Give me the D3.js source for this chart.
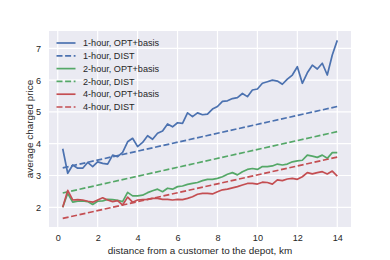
<!DOCTYPE html>
<html>
<head>
<meta charset="utf-8">
<script src="https://cdn.jsdelivr.net/npm/d3@7"></script>
<style>
  body { margin: 0; background: #fff; }
  text { font-family: "Liberation Sans", Arial, sans-serif; fill: #262626; }
</style>
</head>
<body>
<div id="chart"></div>
<script>
// distance from a customer to the depot, km
var distances = d3.range(1, 57).map(function (i) { return i * 0.25; });

var oneHourOpt = [3.84, 3.07, 3.33, 3.23, 3.23, 3.41, 3.28, 3.43, 3.38, 3.36,
  3.64, 3.59, 3.73, 4.06, 4.17, 3.91, 4.04, 4.25, 4.14, 4.33,
  4.40, 4.62, 4.53, 4.66, 4.64, 4.97, 4.85, 4.97, 4.91, 4.93,
  5.09, 5.17, 5.33, 5.35, 5.42, 5.45, 5.58, 5.48, 5.69, 5.72,
  5.90, 5.95, 6.00, 5.97, 5.87, 6.03, 6.16, 6.42, 5.90, 6.23,
  6.47, 6.35, 6.53, 6.16, 6.79, 7.25];

var twoHourOpt = [2.00, 2.44, 2.16, 2.19, 2.20, 2.18, 2.09, 2.19, 2.20, 2.25,
  2.24, 2.22, 2.18, 2.47, 2.36, 2.36, 2.38, 2.46, 2.52, 2.57,
  2.49, 2.60, 2.57, 2.65, 2.67, 2.72, 2.75, 2.78, 2.84, 2.88,
  2.88, 2.91, 2.96, 3.04, 3.09, 3.02, 3.12, 3.19, 3.22, 3.19,
  3.28, 3.28, 3.30, 3.36, 3.33, 3.36, 3.43, 3.46, 3.48, 3.64,
  3.61, 3.57, 3.64, 3.54, 3.72, 3.72];

var fourHourOpt = [2.00, 2.53, 2.23, 2.24, 2.23, 2.19, 2.16, 2.23, 2.30, 2.23,
  2.18, 2.21, 2.07, 2.32, 2.16, 2.23, 2.24, 2.25, 2.28, 2.28,
  2.25, 2.25, 2.23, 2.25, 2.24, 2.28, 2.33, 2.41, 2.44, 2.44,
  2.42, 2.49, 2.55, 2.57, 2.61, 2.65, 2.70, 2.75, 2.75, 2.73,
  2.79, 2.78, 2.73, 2.86, 2.84, 2.89, 2.91, 2.88, 2.96, 3.09,
  3.05, 3.09, 3.12, 3.05, 3.14, 2.98];

// DIST baselines are straight lines: values at both ends
var distEnds = [0.25, 14];
var oneHourDist = [3.24, 5.17];
var twoHourDist = [2.45, 4.38];
var fourHourDist = [1.65, 3.58];

var xTicks = [0, 2, 4, 6, 8, 10, 12, 14];
var yTicks = [2, 3, 4, 5, 6, 7];

var dashed = '6,2.6';
var series = [
  { name: '1-hour, OPT+basis', x: distances, y: oneHourOpt, color: '#4C72B0', dash: null },
  { name: '1-hour, DIST', x: distEnds, y: oneHourDist, color: '#4C72B0', dash: dashed },
  { name: '2-hour, OPT+basis', x: distances, y: twoHourOpt, color: '#55A868', dash: null },
  { name: '2-hour, DIST', x: distEnds, y: twoHourDist, color: '#55A868', dash: dashed },
  { name: '4-hour, OPT+basis', x: distances, y: fourHourOpt, color: '#C44E52', dash: null },
  { name: '4-hour, DIST', x: distEnds, y: fourHourDist, color: '#C44E52', dash: dashed }
];

var width = 390, height = 260;
var margin = { top: 31, right: 39, bottom: 33, left: 49 };
var w = width - margin.left - margin.right;
var h = height - margin.top - margin.bottom;

var svg = d3.select('#chart').append('svg').attr('width', width).attr('height', height);
var g = svg.append('g').attr('transform', 'translate(' + margin.left + ',' + margin.top + ')');

var x = d3.scaleLinear().domain([-0.4375, 14.6875]).range([0, w]);
var y = d3.scaleLinear().domain([1.38, 7.545]).range([h, 0]);

g.append('rect').attr('width', w).attr('height', h).attr('fill', '#EAEAF2');

// grid
g.selectAll('.vgrid').data(xTicks).enter().append('line')
  .attr('x1', function (d) { return x(d); }).attr('x2', function (d) { return x(d); })
  .attr('y1', 0).attr('y2', h)
  .attr('stroke', '#fff').attr('stroke-width', 1.2);
g.selectAll('.hgrid').data(yTicks).enter().append('line')
  .attr('y1', function (d) { return y(d); }).attr('y2', function (d) { return y(d); })
  .attr('x1', 0).attr('x2', w)
  .attr('stroke', '#fff').attr('stroke-width', 1.2);

// axes (labels only, no tick marks)
var xAxis = g.append('g').attr('transform', 'translate(0,' + h + ')')
  .call(d3.axisBottom(x).tickValues(xTicks).tickFormat(d3.format('d')).tickSize(0).tickPadding(8));
var yAxis = g.append('g')
  .call(d3.axisLeft(y).tickValues(yTicks).tickFormat(d3.format('d')).tickSize(0).tickPadding(8));
[xAxis, yAxis].forEach(function (a) {
  a.select('.domain').remove();
  a.selectAll('text').style('font-size', '9.1px').attr('fill', '#262626')
    .style('font-family', '"Liberation Sans", Arial, sans-serif');
});

// lines
var line = d3.line()
  .x(function (d) { return x(d[0]); })
  .y(function (d) { return y(d[1]); });

series.forEach(function (s) {
  var pts = s.x.map(function (v, i) { return [v, s.y[i]]; });
  g.append('path').datum(pts)
    .attr('d', line)
    .attr('fill', 'none')
    .attr('stroke', s.color)
    .attr('stroke-width', 1.7)
    .attr('stroke-linejoin', 'round')
    .attr('stroke-dasharray', s.dash);
});

// legend
var legend = g.append('g').attr('transform', 'translate(7.5,12)');
series.forEach(function (s, i) {
  var row = legend.append('g').attr('transform', 'translate(0,' + (i * 12.8) + ')');
  row.append('line').attr('x1', 0).attr('x2', 19).attr('y1', 0).attr('y2', 0)
    .attr('stroke', s.color).attr('stroke-width', 1.7)
    .attr('stroke-dasharray', s.dash);
  row.append('text').attr('x', 26.5).attr('y', 0).attr('dy', '0.35em')
    .style('font-size', '9.1px').text(s.name);
});

// axis titles
svg.append('text')
  .attr('x', margin.left + w / 2).attr('y', 253.5)
  .attr('text-anchor', 'middle').style('font-size', '9.9px')
  .text('distance from a customer to the depot, km');
svg.append('text')
  .attr('transform', 'translate(33,' + (margin.top + h / 2) + ') rotate(-90)')
  .attr('text-anchor', 'middle').style('font-size', '9.9px')
  .text('average charged price');
</script>
</body>
</html>
